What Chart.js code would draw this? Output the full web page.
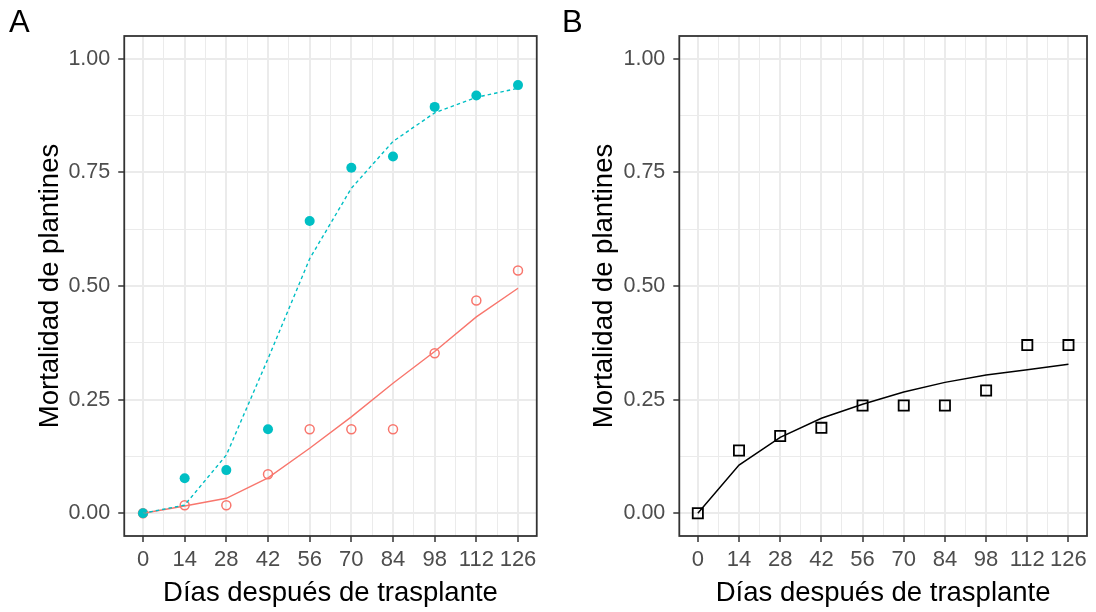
<!DOCTYPE html>
<html>
<head>
<meta charset="utf-8">
<script src="https://cdn.jsdelivr.net/npm/chart.js@4.4.1/dist/chart.umd.min.js"></script>
<style>
    body { margin: 0; background: #fff; width: 1096px; height: 612px; position: relative; overflow: hidden; font-family: "Liberation Sans", Arial, sans-serif; }
    .panel { position: absolute; top: 0; width: 548px; height: 612px; }
    .tag { position: absolute; top: 6px; font-size: 31px; line-height: 31px; color: #000; }
</style>
</head>
<body>
<div class="panel" style="left:0"><canvas id="chartA" width="548" height="612"></canvas></div>
<div class="panel" style="left:548px"><canvas id="chartB" width="548" height="612"></canvas></div>
<div class="tag" style="left:9px">A</div>
<div class="tag" style="left:562px">B</div>
<script>
var dias = [0, 14, 28, 42, 56, 70, 84, 98, 112, 126];
var diasMenores = [7, 21, 35, 49, 63, 77, 91, 105, 119];
var mortTicks = [0, 0.25, 0.5, 0.75, 1];
var mortMenores = [0.125, 0.375, 0.625, 0.875];

// panel A
var cianPuntos = [0, 0.077, 0.095, 0.185, 0.643, 0.760, 0.785, 0.894, 0.919, 0.942];
var cianAjuste = [0, 0.018, 0.128, 0.340, 0.560, 0.715, 0.818, 0.881, 0.915, 0.935];
var rojoPuntos = [0, 0.0175, 0.0175, 0.086, 0.185, 0.185, 0.185, 0.352, 0.468, 0.534];
var rojoAjuste = [0, 0.016, 0.033, 0.078, 0.143, 0.212, 0.286, 0.356, 0.432, 0.495];

// panel B
var negroPuntos = [0, 0.138, 0.170, 0.188, 0.237, 0.237, 0.237, 0.270, 0.370, 0.370];
var negroAjuste = [0, 0.106, 0.167, 0.209, 0.240, 0.267, 0.288, 0.304, 0.316, 0.328];

var fuente = '"Liberation Sans", Arial, sans-serif';

function puntos(ys) {
    return dias.map(function(d, i) { return { x: d, y: ys[i] }; });
}

function esMayor(lista, v) {
    return lista.some(function(m) { return Math.abs(m - v) < 1e-6; });
}

var marco = {
    id: 'marco',
    afterDraw: function(chart) {
        var a = chart.chartArea, ctx = chart.ctx;
        ctx.save();
        ctx.strokeStyle = '#333333';
        ctx.lineWidth = 1.8;
        ctx.strokeRect(a.left, a.top, a.right - a.left, a.bottom - a.top);
        ctx.restore();
    }
};

function escalas(anchoY, padTitulo) {
    return {
        x: {
            type: 'linear',
            min: -6.3,
            max: 132.3,
            afterBuildTicks: function(s) {
                s.ticks = dias.concat(diasMenores).sort(function(a, b) { return a - b; })
                    .map(function(v) { return { value: v }; });
            },
            afterFit: function(s) { s.height = 76; },
            ticks: {
                autoSkip: false, maxRotation: 0, minRotation: 0, padding: 5,
                color: '#4D4D4D', font: { family: fuente, size: 22 },
                callback: function(v) { return esMayor(dias, v) ? String(v) : ''; }
            },
            grid: {
                color: '#EBEBEB',
                lineWidth: function(c) { return c.tick && esMayor(dias, c.tick.value) ? 2 : 1; },
                tickLength: 6,
                tickWidth: 1.5,
                tickColor: function(c) { return c.tick && esMayor(dias, c.tick.value) ? '#333333' : 'rgba(0,0,0,0)'; }
            },
            border: { display: false },
            title: {
                display: true, text: 'Días después de trasplante', color: '#000',
                font: { family: fuente, size: 27.5 }, padding: { top: 0, bottom: 2 }
            }
        },
        y: {
            type: 'linear',
            min: -0.05,
            max: 1.05,
            afterBuildTicks: function(s) {
                s.ticks = mortTicks.concat(mortMenores).sort(function(a, b) { return a - b; })
                    .map(function(v) { return { value: v }; });
            },
            afterFit: function(s) { s.width = anchoY; },
            ticks: {
                autoSkip: false, padding: 8,
                color: '#4D4D4D', font: { family: fuente, size: 21.5 },
                callback: function(v) { return esMayor(mortTicks, v) ? v.toFixed(2) : ''; }
            },
            grid: {
                color: '#EBEBEB',
                lineWidth: function(c) { return c.tick && esMayor(mortTicks, c.tick.value) ? 2 : 1; },
                tickLength: 6,
                tickWidth: 1.5,
                tickColor: function(c) { return c.tick && esMayor(mortTicks, c.tick.value) ? '#333333' : 'rgba(0,0,0,0)'; }
            },
            border: { display: false },
            title: {
                display: true, text: 'Mortalidad de plantines', color: '#000',
                font: { family: fuente, size: 27.5 }, padding: { top: padTitulo, bottom: 0 }
            }
        }
    };
}

var opcionesBase = {
    responsive: false,
    animation: false,
    plugins: { legend: { display: false }, tooltip: { enabled: false } }
};

var ctxA = document.getElementById('chartA').getContext('2d');
var chartA = new Chart(ctxA, {
    type: 'scatter',
    data: {
        datasets: [{
            data: puntos(cianAjuste),
            showLine: true, pointRadius: 0,
            borderColor: '#00BFC4', borderWidth: 1.4, borderDash: [3.5, 3],
            order: 1
        }, {
            data: puntos(rojoAjuste),
            showLine: true, pointRadius: 0,
            borderColor: '#F8766D', borderWidth: 1.4,
            order: 2
        }, {
            data: puntos(cianPuntos),
            pointRadius: 5, pointBackgroundColor: '#00BFC4', pointBorderColor: '#00BFC4', pointBorderWidth: 0,
            order: 3
        }, {
            data: puntos(rojoPuntos),
            pointRadius: 4.5, pointBackgroundColor: 'rgba(0,0,0,0)', pointBorderColor: '#F8766D', pointBorderWidth: 1.5,
            order: 4
        }]
    },
    options: Object.assign({}, opcionesBase, {
        layout: { padding: { left: 0, right: 11.25, top: 36, bottom: 0 } },
        scales: escalas(124.25, 33.5)
    }),
    plugins: [marco]
});

var ctxB = document.getElementById('chartB').getContext('2d');
var chartB = new Chart(ctxB, {
    type: 'scatter',
    data: {
        datasets: [{
            data: puntos(negroAjuste),
            showLine: true, pointRadius: 0,
            borderColor: '#000000', borderWidth: 1.5,
            order: 1
        }, {
            data: puntos(negroPuntos),
            pointStyle: 'rect', pointRadius: 7.2,
            pointBackgroundColor: 'rgba(0,0,0,0)', pointBorderColor: '#000000', pointBorderWidth: 1.8,
            order: 2
        }]
    },
    options: Object.assign({}, opcionesBase, {
        layout: { padding: { left: 0, right: 6, top: 36, bottom: 0 } },
        scales: escalas(131.3, 39.5)
    }),
    plugins: [marco]
});
</script>
</body>
</html>
